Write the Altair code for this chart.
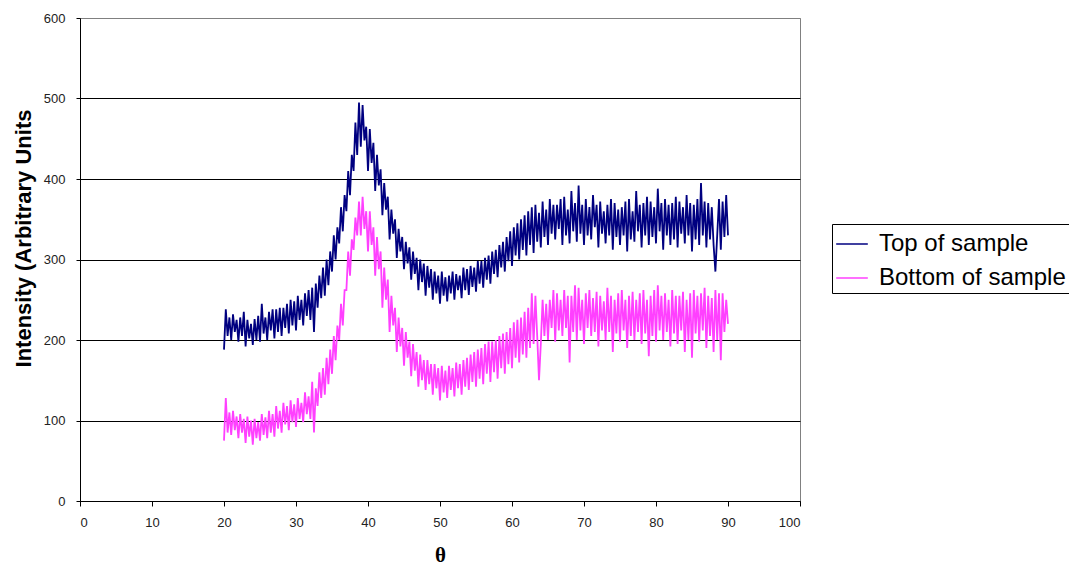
import altair as alt
import pandas as pd

# theta grid: 20.00, 20.25, ... 90.00
THETA_START = 20.0
THETA_STEP = 0.25

TOP = [
    188, 238, 205, 228,  200, 232, 210, 225,  198, 228, 205, 235,  192, 225, 202, 220,
    194, 226, 200, 230,  198, 245, 208, 228,  200, 235, 212, 238,  202, 238, 210, 240,
    205, 240, 215, 245,  208, 250, 218, 248,  212, 255, 225, 250,  218, 258, 230, 262,
    225, 265, 210, 270,  240, 280, 252, 290,  255, 300, 268, 310,  285, 330, 300, 340,
    320, 365, 335, 380,  360, 410, 380, 430,  410, 470, 430, 495,  440, 492, 448, 465,
    410, 462, 420, 445,  385, 430, 392, 412,  355, 395, 362, 378,  325, 362, 332, 350,
    302, 338, 310, 328,  288, 322, 295, 315,  275, 310, 282, 302,  262, 300, 272, 295,
    255, 292, 265, 288,  250, 285, 258, 280,  245, 285, 255, 278,  248, 280, 258, 285,
    250, 282, 262, 280,  252, 290, 262, 288,  256, 292, 266, 290,  260, 298, 270, 298,
    265, 302, 275, 305,  270, 310, 282, 312,  278, 318, 290, 322,  285, 328, 298, 335,
    292, 340, 305, 345,  300, 350, 312, 355,  305, 360, 318, 365,  308, 368, 322, 358,
    315, 372, 328, 362,  318, 375, 332, 368,  325, 368, 338, 375,  318, 378, 330, 362,
    320, 385, 335, 370,  322, 392, 332, 368,  318, 375, 330, 365,  325, 380, 340, 368,
    315, 372, 332, 360,  320, 368, 330, 375,  312, 370, 328, 362,  318, 365, 330, 372,
    310, 375, 325, 360,  322, 385, 335, 368,  315, 370, 330, 378,  318, 372, 328, 365,
    320, 388, 335, 370,  312, 375, 330, 368,  318, 370, 325, 378,  315, 372, 332, 365,
    320, 380, 330, 370,  310, 368, 325, 375,  318, 395, 330, 372,  315, 370, 325, 365,
    318, 285, 330, 375,  312, 372, 328, 380,
    330,
]

BOTTOM = [
    75, 128, 85, 110,   82, 112, 88, 105,   78, 108, 85, 102,   72, 105, 80, 100,
    70, 102, 78, 98,    75, 108, 82, 104,   78, 112, 85, 108,   80, 118, 90, 112,
    85, 122, 95, 118,   88, 125, 98, 120,   92, 128, 102, 122,  98, 135, 108, 130,
    102, 148, 85, 140,  118, 160, 128, 165, 132, 178, 145, 188, 158, 205, 175, 218,
    200, 245, 218, 262, 262, 310, 280, 325, 312, 352, 330, 372, 330, 378, 338, 360,
    310, 360, 318, 340, 280, 328, 288, 310, 240, 290, 250, 275, 210, 255, 218, 240,
    185, 228, 192, 215, 168, 210, 178, 198, 155, 195, 162, 185, 142, 182, 150, 175,
    138, 175, 145, 170, 132, 170, 140, 165, 125, 168, 135, 162, 128, 168, 138, 165,
    130, 172, 140, 170, 132, 175, 142, 178, 138, 182, 148, 185, 142, 188, 152, 190,
    145, 195, 158, 198, 148, 198, 160, 200, 152, 205, 165, 208, 158, 210, 170, 215,
    165, 222, 178, 225, 172, 228, 182, 235, 178, 240, 190, 258, 195, 255, 205, 150,
    195, 250, 205, 245, 200, 250, 215, 262, 198, 258, 212, 250, 205, 262, 215, 255,
    172, 255, 210, 268, 200, 265, 212, 250, 195, 258, 215, 262, 205, 252, 210, 260,
    192, 255, 212, 248, 200, 265, 210, 255, 185, 250, 208, 258, 198, 262, 212, 250,
    190, 255, 205, 260, 200, 250, 210, 258, 195, 262, 208, 250, 180, 255, 205, 262,
    198, 268, 212, 255, 200, 258, 210, 250, 192, 262, 208, 255, 195, 255, 212, 260,
    185, 250, 200, 258, 178, 262, 208, 255, 198, 258, 212, 265, 190, 255, 205, 252,
    185, 262, 200, 258, 175, 258, 210, 250,
    220,
]

SERIES = ["Top of sample", "Bottom of sample"]
COLORS = ["#000080", "#FF40FF"]
X_TICKS = [0, 10, 20, 30, 40, 50, 60, 70, 80, 90, 100]
Y_TICKS = [0, 100, 200, 300, 400, 500, 600]

rows = []
for name, vals in zip(SERIES, [TOP, BOTTOM]):
    for i, v in enumerate(vals):
        rows.append({"theta": THETA_START + THETA_STEP * i, "intensity": v, "series": name})
df = pd.DataFrame(rows)

TICK_FONT = "Liberation Sans Narrow, Liberation Sans, Arial"

chart = alt.Chart(df).mark_line(strokeWidth=1.8).encode(
    x=alt.X(
        "theta:Q",
        scale=alt.Scale(domain=[0, 100], nice=False, zero=False),
        axis=alt.Axis(
            values=X_TICKS, grid=False, title="θ",
            labelFont=TICK_FONT, labelFontSize=13, labelColor="#222222",
            labelPadding=10, tickSize=5, tickColor="black", domainColor="black",
            titleFont="Liberation Serif", titleFontSize=21, titleFontWeight="bold",
            titleColor="black", titleX=360, titleY=54, titleBaseline="middle",
        ),
    ),
    y=alt.Y(
        "intensity:Q",
        scale=alt.Scale(domain=[0, 600], nice=False),
        axis=alt.Axis(
            values=Y_TICKS, grid=True,
            gridColor={"condition": {"test": "datum.value === 600", "value": "#808080"}, "value": "black"},
            gridOpacity=1, gridWidth=1,
            title="Intensity (Arbitrary Units",
            labelFont=TICK_FONT, labelFontSize=13, labelColor="#222222",
            labelPadding=11, tickSize=4, tickColor="black", domainColor="black",
            titleFont="Liberation Sans", titleFontSize=22, titleFontWeight="bold",
            titleColor="black", titleX=-57, titleY=220, titleAngle=270,
            titleAlign="center", titleBaseline="middle",
        ),
    ),
    color=alt.Color(
        "series:N",
        scale=alt.Scale(domain=SERIES, range=COLORS),
        legend=alt.Legend(
            title=None, orient="none", legendX=752, legendY=206,
            strokeColor="black", fillColor="white", padding=3,
            labelFont="Liberation Sans", labelFontSize=24, labelColor="black",
            labelLimit=400, labelOffset=10, rowPadding=5,
            symbolType="stroke", symbolSize=1000, symbolStrokeWidth=1.5,
        ),
    ),
).properties(
    width=720,
    height=483,
    autosize=alt.AutoSizeParams(type="none"),
    padding={"left": 72, "top": 10, "right": 269, "bottom": 64},
).configure_view(stroke="#808080", strokeWidth=1)

chart.save("out.html", embed_options={"renderer": "svg", "actions": False})
